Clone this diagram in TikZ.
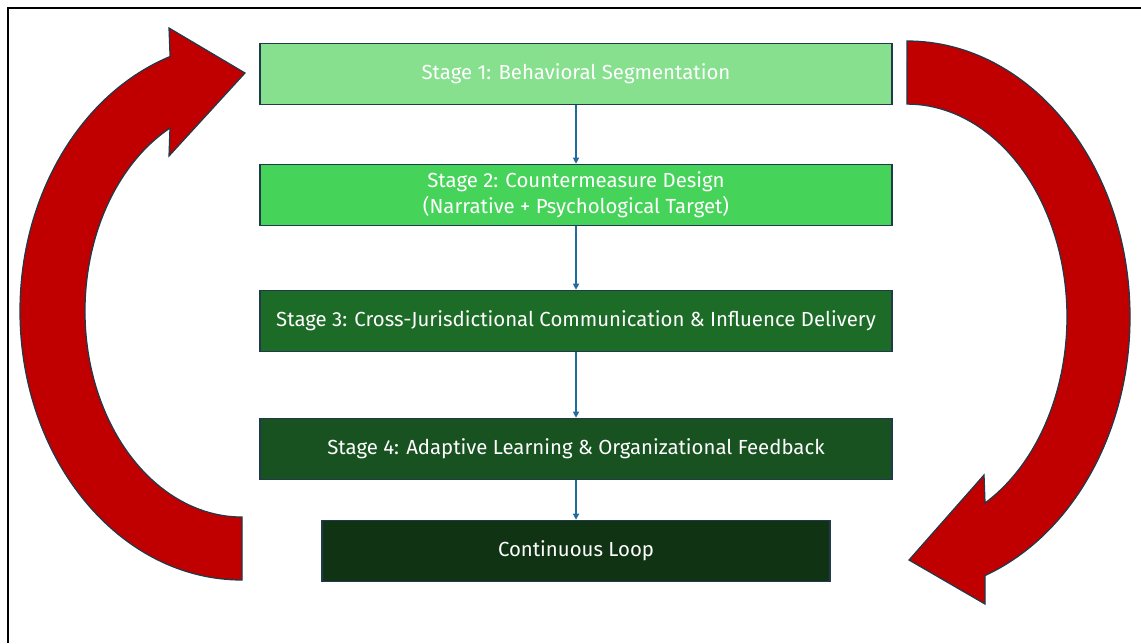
\documentclass[tikz,border=0pt]{standalone}
\usepackage{fontspec}
\setmainfont{Fira Sans}
\usetikzlibrary{arrows.meta}

\definecolor{stageA}{HTML}{86E08E}
\definecolor{stageB}{HTML}{46D35A}
\definecolor{stageC}{HTML}{1C6B26}
\definecolor{stageD}{HTML}{175220}
\definecolor{stageE}{HTML}{0F3313}
\definecolor{edge}{HTML}{1F3A4A}
\definecolor{loopred}{HTML}{C00000}
\definecolor{link}{HTML}{1F6C9E}

\tikzset{
  stagebox/.style={draw=edge, line width=0.9pt, text=white, inner sep=0pt,
    minimum width=12.64cm, minimum height=1.22cm, align=center,
    font=\fontsize{11.6}{14.8}\selectfont},
  flow/.style={draw=link, line width=0.7pt, -{Triangle[length=3.5pt,width=3.5pt]}},
  looparrow/.style={fill=loopred, draw=edge, line width=0.7pt}
}

\begin{document}
\begin{tikzpicture}[x=0.02cm, y=-0.02cm]
  \useasboundingbox (0,0) rectangle (1141,643);

  % frame
  \draw[line width=1.3pt] (1141,8) -- (8,8) -- (8,643);

  % stages, top to bottom
  \node[stagebox, fill=stageA] (s1) at (576,74) {Stage 1: Behavioral Segmentation};
  \node[stagebox, fill=stageB] (s2) at (576,195) {Stage 2: Countermeasure Design\\(Narrative + Psychological Target)};
  \node[stagebox, fill=stageC] (s3) at (576,321) {Stage 3: Cross-Jurisdictional Communication \& Influence Delivery};
  \node[stagebox, fill=stageD] (s4) at (576,449) {Stage 4: Adaptive Learning \& Organizational Feedback};
  \node[stagebox, fill=stageE, minimum width=10.16cm] (loop) at (576,551) {Continuous Loop};

  \draw[flow] (s1) -- (s2);
  \draw[flow] (s2) -- (s3);
  \draw[flow] (s3) -- (s4);
  \draw[flow] (s4) -- (loop);

  % curved return arrows
  \draw[looparrow] (242,580) arc[start angle=90, end angle=251.1, x radius=222, y radius=269]
    -- (169,28) -- (245,73) -- (169,156) -- (170,128)
    arc[start angle=242.7, end angle=90, x radius=157, y radius=206] -- cycle;
  \draw[looparrow] (907,41) arc[start angle=-90, end angle=69.5, x radius=223, y radius=276]
    -- (985,604) -- (909,560) -- (984,475) -- (985,503)
    arc[start angle=60.8, end angle=-90, x radius=160, y radius=213] -- cycle;
\end{tikzpicture}
\end{document}
